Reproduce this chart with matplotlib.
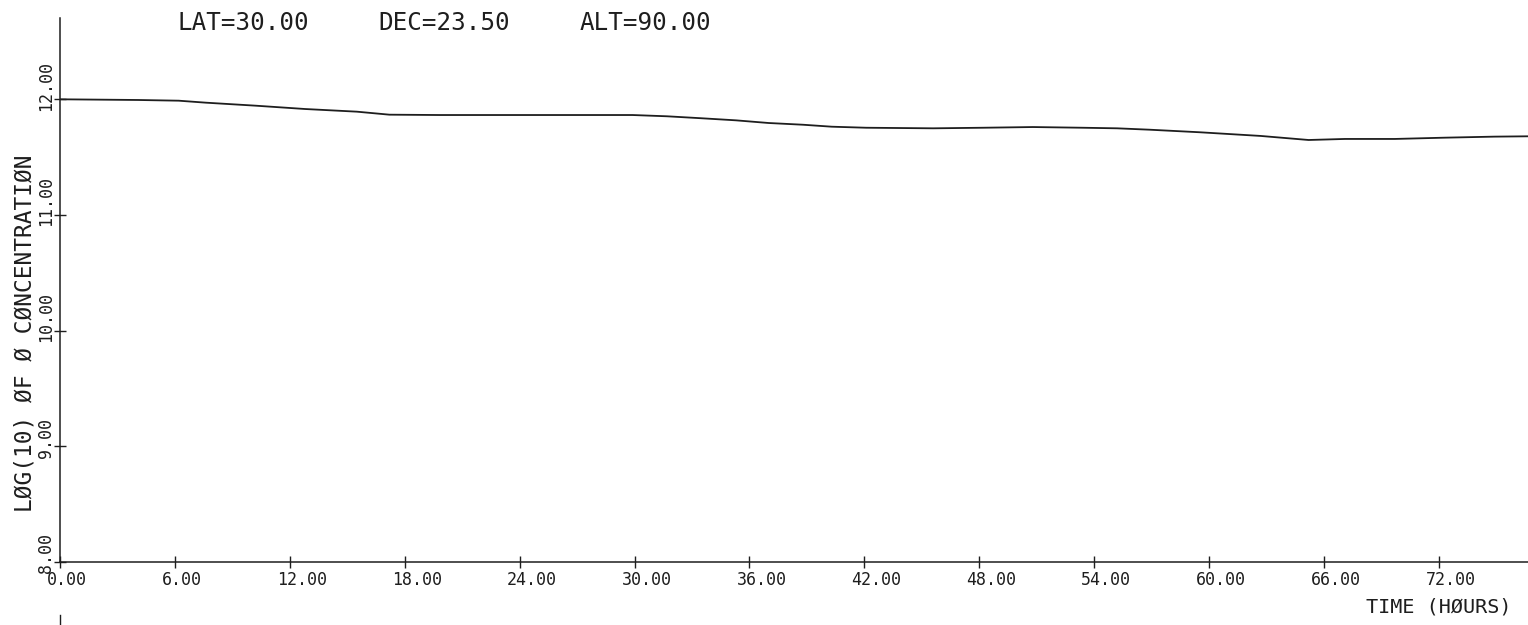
import matplotlib
matplotlib.use("Agg")
import matplotlib.pyplot as plt
from matplotlib.transforms import offset_copy, blended_transform_factory
from matplotlib.lines import Line2D

# Atomic oxygen concentration over a 3-day run
hours = [0.0, 4.1, 6.2, 7.6, 10.2, 12.8, 15.5, 17.2, 19.8, 24.0, 27.5, 29.9,
         31.7, 33.5, 35.3, 37.0, 38.8, 40.3, 42.1, 45.6, 48.2, 50.8, 53.4,
         55.2, 56.9, 59.5, 62.7, 65.2, 67.1, 69.7, 72.3, 74.9, 76.7]
log_conc = [12.000, 11.994, 11.988, 11.971, 11.945, 11.916, 11.893, 11.867,
            11.864, 11.864, 11.864, 11.864, 11.853, 11.836, 11.818, 11.795,
            11.780, 11.763, 11.754, 11.749, 11.754, 11.760, 11.754, 11.749,
            11.737, 11.715, 11.683, 11.648, 11.657, 11.657, 11.668, 11.677,
            11.680]

x_ticks = [0, 6, 12, 18, 24, 30, 36, 42, 48, 54, 60, 66, 72]
x_tick_labels = ["0.00", "6.00", "12.00", "18.00", "24.00", "30.00", "36.00",
                 "42.00", "48.00", "54.00", "60.00", "66.00", "72.00"]
y_ticks = [8, 9, 10, 11, 12]
y_tick_labels = ["8.00", "9.00", "10.00", "11.00", "12.00"]

header = ["LAT=30.00", "DEC=23.50", "ALT=90.00"]
x_title = "TIME (HØURS)"
y_title = "LØG(10) ØF Ø CØNCENTRATIØN"

INK = "#1e1e1e"
FONT = "DejaVu Sans Mono"

W, H, DPI = 1528, 625, 100
fig = plt.figure(figsize=(W / DPI, H / DPI), dpi=DPI)
fig.patch.set_facecolor("white")

x0_px, y0_px, top_px = 60, 561.7, 18
ax = fig.add_axes([x0_px / W, 1 - y0_px / H, (W - x0_px) / W, (y0_px - top_px) / H])
ax.set_facecolor("white")

ax.plot(hours, log_conc, color=INK, lw=1.3, solid_capstyle="round")

ax.set_xlim(0, (W - x0_px) / 19.15)
ax.set_ylim(8, 12 + (99.3 - top_px) / 115.6)

for side in ("top", "right"):
    ax.spines[side].set_visible(False)
for side in ("left", "bottom"):
    ax.spines[side].set_color(INK)
    ax.spines[side].set_linewidth(1.1)

ax.set_xticks(x_ticks, labels=[""] * len(x_ticks))
ax.set_yticks(y_ticks, labels=[""] * len(y_ticks))
ax.tick_params(axis="both", direction="inout", length=8, width=1.0, colors=INK)

# x tick labels, left-aligned just before each tick
xtr = offset_copy(blended_transform_factory(ax.transData, ax.transAxes),
                  fig=fig, x=-13, y=-18.5, units="dots")
for t, lab in zip(x_ticks, x_tick_labels):
    ax.text(t, 0, lab, transform=xtr, ha="left", va="center",
            fontsize=12, family=FONT, color=INK, clip_on=False)

# y tick labels, rotated and starting just below each tick
ytr = offset_copy(blended_transform_factory(ax.transAxes, ax.transData),
                  fig=fig, x=-14, y=-11.5, units="dots")
for t, lab in zip(y_ticks, y_tick_labels):
    ax.text(0, t, lab, transform=ytr, rotation=90, rotation_mode="anchor",
            ha="left", va="center", fontsize=12, family=FONT, color=INK,
            clip_on=False)

# header line
for xpx, s in zip([177, 378, 580], header):
    fig.text(xpx / W, 1 - 23.5 / H, s, ha="left", va="center",
             fontsize=17.5, family=FONT, color=INK)

fig.text(25 / W, 1 - 333 / H, y_title, rotation=90, ha="center", va="center",
         fontsize=16.5, family=FONT, color=INK)
fig.text(1512 / W, 1 - 607 / H, x_title, ha="right", va="center",
         fontsize=14.5, family=FONT, color=INK)

# short stub of the frame below the plot
fig.add_artist(Line2D([60 / W, 60 / W], [0, 1 - 615 / H], transform=fig.transFigure,
                      color=INK, lw=1.0))

fig.savefig("out.png", dpi=DPI, facecolor="white")
